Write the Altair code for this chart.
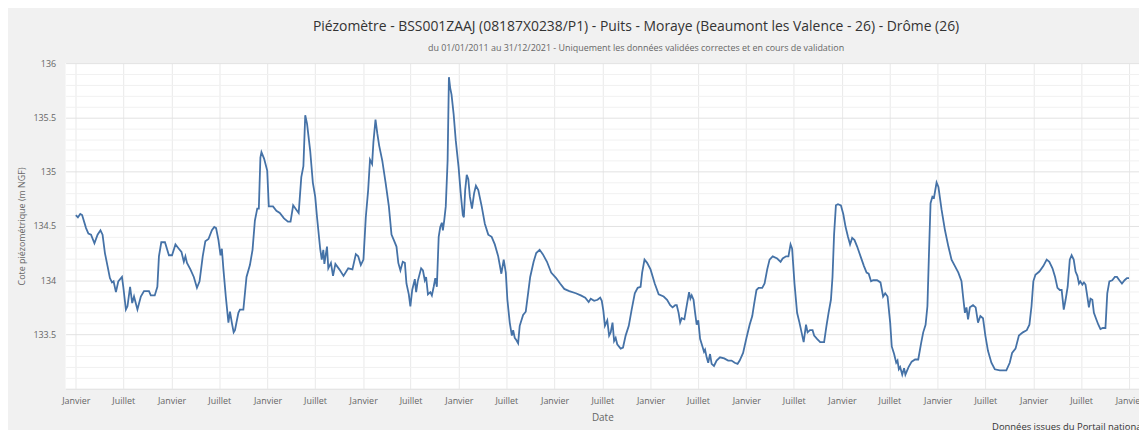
import altair as alt
import pandas as pd

# Days since 2011-01-01 and groundwater level (m NGF)
days = [
    0, 8, 17, 24, 39, 48, 58, 71, 83, 94,
    102, 111, 121, 130, 138, 144, 153, 162, 176, 181,
    191, 197, 207, 215, 222, 235, 248, 260, 279, 286,
    301, 311, 317, 326, 340, 355, 367, 380, 393, 403,
    412, 418, 424, 437, 450, 462, 472, 484, 494, 506,
    519, 528, 535, 544, 552, 557, 563, 572, 582, 588,
    595, 602, 607, 620, 626, 639, 651, 664, 674, 683,
    692, 698, 704, 708, 718, 730, 736, 752, 765, 778,
    794, 809, 819, 829, 841, 850, 860, 868, 875, 882,
    894, 904, 913, 920, 932, 938, 944, 948, 958, 963,
    973, 981, 990, 1005, 1021, 1039, 1055, 1068, 1077, 1087,
    1097, 1106, 1115, 1122, 1130, 1135, 1143, 1150, 1157, 1169,
    1182, 1194, 1204, 1213, 1223, 1230, 1238, 1247, 1255, 1261,
    1270, 1276, 1283, 1293, 1298, 1304, 1317, 1324, 1331, 1336,
    1343, 1352, 1358, 1365, 1371, 1377, 1384, 1390, 1396, 1400,
    1405, 1411, 1418, 1423, 1428, 1433, 1441, 1449, 1460, 1468,
    1476, 1480, 1485, 1491, 1497, 1503, 1511, 1519, 1526, 1535,
    1548, 1560, 1573, 1586, 1598, 1611, 1623, 1632, 1640, 1646,
    1655, 1663, 1668, 1674, 1680, 1687, 1693, 1706, 1716, 1725,
    1733, 1746, 1756, 1769, 1781, 1797, 1813, 1832, 1847, 1863,
    1882, 1907, 1926, 1943, 1956, 1964, 1977, 1990, 2000, 2006,
    2012, 2018, 2027, 2034, 2040, 2047, 2053, 2059, 2065, 2078,
    2087, 2097, 2109, 2120, 2132, 2143, 2154, 2160, 2169, 2179,
    2192, 2208, 2223, 2242, 2255, 2267, 2276, 2286, 2292, 2299,
    2305, 2311, 2321, 2331, 2339, 2344, 2349, 2356, 2362, 2368,
    2374, 2381, 2390, 2396, 2400, 2406, 2412, 2419, 2425, 2434,
    2444, 2457, 2473, 2488, 2501, 2513, 2524, 2532, 2545, 2558,
    2570, 2580, 2587, 2596, 2604, 2618, 2627, 2637, 2646, 2658,
    2675, 2688, 2696, 2709, 2718, 2726, 2732, 2741, 2751, 2760,
    2768, 2776, 2785, 2791, 2800, 2810, 2816, 2827, 2839, 2854,
    2863, 2871, 2880, 2886, 2892, 2899, 2907, 2918, 2927, 2936,
    2945, 2953, 2961, 2970, 2980, 2993, 3006, 3016, 3024, 3033,
    3041, 3056, 3069, 3079, 3087, 3096, 3106, 3112, 3121, 3129,
    3134, 3139, 3144, 3152, 3159, 3164, 3176, 3188, 3201, 3213,
    3224, 3232, 3241, 3248, 3254, 3260, 3267, 3273, 3283, 3290,
    3302, 3315, 3328, 3340, 3353, 3366, 3378, 3384, 3391, 3397,
    3403, 3410, 3422, 3432, 3441, 3450, 3460, 3469, 3479, 3492,
    3505, 3524, 3549, 3562, 3571, 3584, 3597, 3612, 3627, 3637,
    3645, 3652, 3660, 3675, 3690, 3703, 3713, 3725, 3735, 3744,
    3753, 3760, 3768, 3775, 3783, 3791, 3798, 3806, 3813, 3820,
    3826, 3831, 3839, 3845, 3851, 3858, 3864, 3870, 3877, 3883,
    3892, 3900, 3908, 3917, 3927, 3934, 3942, 3953, 3963, 3971,
    3980, 3990, 4000, 4009, 4017,
]
levels = [
    134.60, 134.58, 134.61, 134.60, 134.48, 134.43, 134.42, 134.34, 134.42, 134.46,
    134.42, 134.25, 134.13, 134.02, 133.98, 133.99, 133.89, 133.99, 134.03, 133.94,
    133.73, 133.76, 133.94, 133.79, 133.85, 133.73, 133.85, 133.90, 133.90, 133.86,
    133.86, 133.94, 134.22, 134.35, 134.35, 134.23, 134.23, 134.33, 134.29, 134.26,
    134.17, 134.22, 134.16, 134.10, 134.03, 133.93, 133.99, 134.22, 134.36, 134.38,
    134.46, 134.49, 134.48, 134.37, 134.23, 134.29, 134.10, 133.85, 133.61, 133.71,
    133.61, 133.52, 133.54, 133.70, 133.73, 133.73, 134.03, 134.14, 134.28, 134.55,
    134.66, 134.66, 135.13, 135.18, 135.12, 135.01, 134.68, 134.68, 134.64, 134.62,
    134.57, 134.54, 134.54, 134.69, 134.65, 134.62, 134.95, 135.05, 135.52, 135.44,
    135.19, 134.90, 134.77, 134.58, 134.29, 134.19, 134.28, 134.15, 134.31, 134.11,
    134.16, 134.04, 134.15, 134.10, 134.04, 134.11, 134.10, 134.24, 134.22, 134.14,
    134.19, 134.58, 134.83, 135.11, 135.07, 135.27, 135.48, 135.35, 135.24, 135.10,
    134.89, 134.68, 134.42, 134.37, 134.31, 134.16, 134.09, 134.17, 134.16, 133.97,
    133.87, 133.76, 133.91, 134.01, 133.89, 133.99, 134.11, 134.09, 134.00, 134.03,
    133.87, 133.89, 133.86, 133.94, 134.02, 133.94, 134.40, 134.49, 134.53, 134.46,
    134.55, 134.68, 135.10, 135.87, 135.77, 135.71, 135.53, 135.29, 135.04, 134.80,
    134.60, 134.58, 134.83, 134.97, 134.93, 134.77, 134.66, 134.80, 134.87, 134.83,
    134.68, 134.52, 134.42, 134.40, 134.33, 134.22, 134.06, 134.19, 134.07, 133.82,
    133.61, 133.49, 133.54, 133.47, 133.45, 133.42, 133.58, 133.68, 133.71, 133.88,
    134.03, 134.17, 134.25, 134.28, 134.24, 134.17, 134.07, 134.02, 133.97, 133.92,
    133.90, 133.88, 133.86, 133.84, 133.80, 133.83, 133.81, 133.82, 133.84, 133.81,
    133.72, 133.58, 133.63, 133.49, 133.52, 133.61, 133.44, 133.47, 133.41, 133.37,
    133.38, 133.49, 133.58, 133.73, 133.88, 133.93, 133.94, 134.07, 134.19, 134.16,
    134.10, 133.97, 133.87, 133.85, 133.82, 133.77, 133.75, 133.77, 133.77, 133.70,
    133.61, 133.65, 133.64, 133.78, 133.89, 133.83, 133.86, 133.82, 133.70, 133.59,
    133.63, 133.46, 133.39, 133.34, 133.36, 133.29, 133.24, 133.32, 133.23, 133.21,
    133.26, 133.29, 133.28, 133.26, 133.26, 133.24, 133.23, 133.26, 133.33, 133.47,
    133.59, 133.67, 133.78, 133.91, 133.93, 133.93, 133.97, 134.10, 134.19, 134.22,
    134.20, 134.17, 134.20, 134.22, 134.22, 134.33, 134.29, 133.97, 133.70, 133.61,
    133.52, 133.43, 133.59, 133.52, 133.54, 133.54, 133.49, 133.46, 133.43, 133.43,
    133.58, 133.70, 133.82, 134.03, 134.42, 134.69, 134.70, 134.69, 134.61, 134.49,
    134.40, 134.33, 134.39, 134.37, 134.31, 134.22, 134.13, 134.07, 134.06, 133.99,
    134.00, 134.00, 133.98, 133.85, 133.88, 133.85, 133.61, 133.39, 133.32, 133.24,
    133.26, 133.18, 133.20, 133.13, 133.19, 133.13, 133.20, 133.25, 133.27, 133.27,
    133.42, 133.52, 133.59, 133.76, 134.25, 134.71, 134.77, 134.76, 134.90, 134.86,
    134.65, 134.46, 134.31, 134.19, 134.13, 134.07, 133.99, 133.85, 133.70, 133.75,
    133.64, 133.75, 133.77, 133.75, 133.61, 133.67, 133.65, 133.49, 133.35, 133.24,
    133.18, 133.17, 133.17, 133.24, 133.33, 133.37, 133.49, 133.52, 133.54, 133.59,
    133.76, 133.99, 134.05, 134.08, 134.13, 134.19, 134.17, 134.11, 134.03, 133.93,
    133.91, 133.91, 133.73, 133.82, 133.94, 134.19, 134.23, 134.19, 134.08, 134.04,
    133.97, 133.99, 133.96, 133.98, 133.96, 133.85, 133.75, 133.83, 133.82, 133.70,
    133.64, 133.59, 133.55, 133.56, 133.56, 133.88, 133.99, 134.00, 134.03, 134.03,
    134.00, 133.97, 134.00, 134.02, 134.02,
]

tick_years = list(range(2011, 2023))
tick_months = [1, 7]
y_grid_values = [round(133 + i * 0.1, 1) for i in range(31)]

title_text = "Piézomètre - BSS001ZAAJ (08187X0238/P1) - Puits - Moraye (Beaumont les Valence - 26) - Drôme (26)"
subtitle_text = "du 01/01/2011 au 31/12/2021 - Uniquement les données validées correctes et en cours de validation"
footer_text = "Données issues du Portail national eaufrance ADES"
y_title = "Cote piézométrique (m NGF)"
x_title = "Date"

origin = pd.Timestamp("2011-01-01")
df = pd.DataFrame({
    "date": [(origin + pd.Timedelta(days=d)).strftime("%Y-%m-%d") for d in days],
    "level": levels,
})

d0 = origin - pd.Timedelta(days=39)
d1 = origin + pd.Timedelta(days=4055)
x_domain = [alt.DateTime(year=d0.year, month=d0.month, date=d0.day, utc=True),
            alt.DateTime(year=d1.year, month=d1.month, date=d1.day, utc=True)]
x_ticks = [alt.DateTime(year=y, month=m, date=1, utc=True) for y in tick_years for m in tick_months]

FONT = "Open Sans"

line = alt.Chart(df).mark_line(color="#4572A7", strokeWidth=1.8).encode(
    x=alt.X("date:T",
            scale=alt.Scale(type="utc", domain=x_domain),
            axis=alt.Axis(values=x_ticks,
                          labelExpr="utcmonth(datum.value) == 0 ? 'Janvier' : 'Juillet'",
                          grid=True, gridColor="#e9e9e9", gridWidth=1,
                          ticks=False, tickSize=0, domain=False,
                          labelPadding=8, labelFont=FONT, labelFontSize=9, labelColor="#666666",
                          labelOverlap=False, labelFlush=False, labelBound=False,
                          title=x_title, titleFont=FONT, titleFontSize=10, titleFontWeight="normal",
                          titleColor="#666666", titleY=29, titleBaseline="middle")),
    y=alt.Y("level:Q",
            scale=alt.Scale(domain=[133, 136], nice=False, zero=False),
            axis=alt.Axis(values=y_grid_values,
                          labelExpr="(abs(datum.value*2 - round(datum.value*2)) < 0.001 && datum.value > 133.01) ? format(datum.value, '~g') : ''",
                          grid=True,
                          gridColor={"condition": {"test": "abs(datum.value*2 - round(datum.value*2)) < 0.001",
                                                   "value": "#e2e2e2"},
                                     "value": "#f1f1f1"},
                          ticks=False, tickSize=0, domain=False,
                          labelPadding=10, labelFont=FONT, labelFontSize=9, labelColor="#666666",
                          labelOverlap=False, labelFlush=False, labelBound=False,
                          title=y_title, titleFont=FONT, titleFontSize=9, titleFontWeight="normal",
                          titleColor="#666666", titleX=-44, titleY=164, titleBaseline="middle",
                          titleAngle=-90, titleAlign="center")),
)

footer = alt.Chart(pd.DataFrame({"t": [footer_text]})).mark_text(
    align="left", baseline="middle", font=FONT, fontSize=9.5, color="#333333"
).encode(x=alt.value(933), y=alt.value(366), text="t:N")

chart = alt.layer(line, footer).properties(
    width=1081,
    height=328,
    autosize=alt.AutoSizeParams(type="none"),
    padding={"left": 58, "top": 54, "right": 0, "bottom": 40},
    background="#f1f1f1",
    title=alt.TitleParams(text=title_text, subtitle=subtitle_text, anchor="middle", frame="group",
                          dx=34, offset=6, font=FONT, fontSize=14, fontWeight="normal", color="#333333",
                          subtitleFont=FONT, subtitleFontSize=9, subtitleColor="#666666",
                          subtitlePadding=10),
).configure_view(stroke=None, fill="white")

chart.save("out.html", embed_options={"renderer": "svg", "actions": False})
